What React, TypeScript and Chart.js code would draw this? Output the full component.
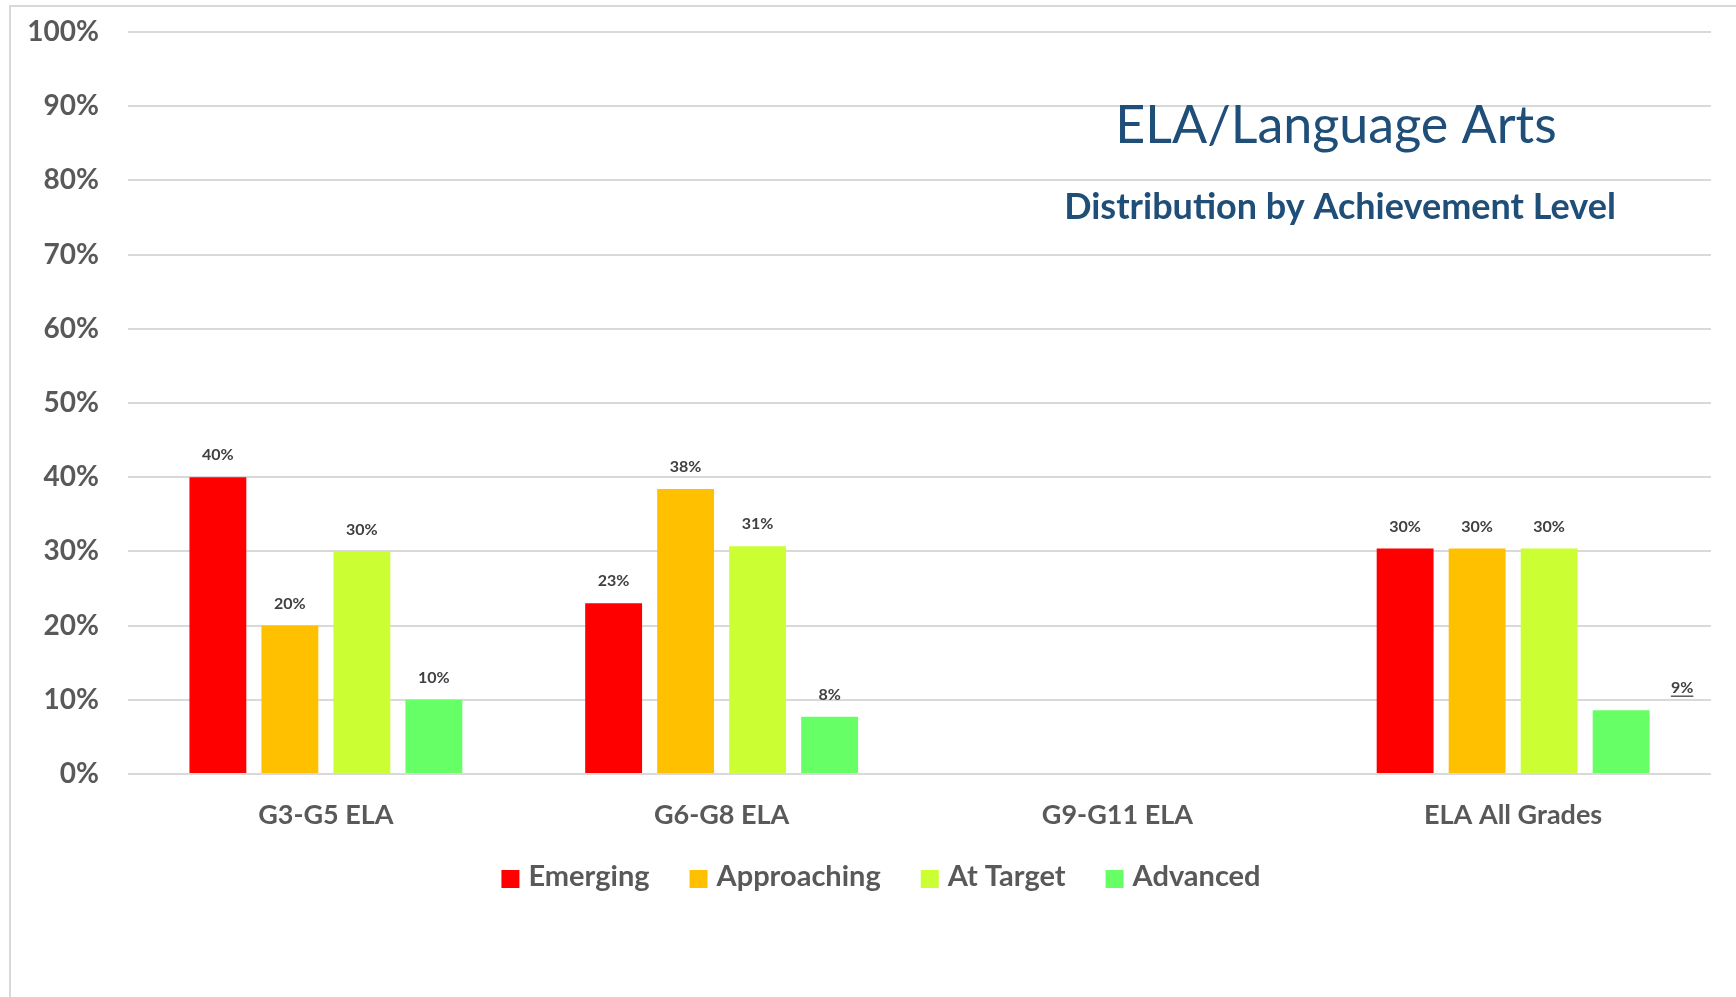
import React, { useEffect, useRef } from "react";
import { Chart, registerables } from "chart.js";

Chart.register(...registerables);

const categories = ["G3-G5 ELA", "G6-G8 ELA", "G9-G11 ELA", "ELA All Grades"];
const seriesNames = ["Emerging", "Approaching", "At Target", "Advanced"];
const emerging = [0.4, 0.23, null, 0.304];
const approaching = [0.2, 0.384, null, 0.304];
const atTarget = [0.3, 0.307, null, 0.304];
const advanced = [0.1, 0.077, null, 0.086];
const seriesColors = ["#FF0000", "#FFC000", "#CCFF33", "#66FF66"];
const chartTitle = "ELA/Language Arts";
const chartSubtitle = "Distribution by Achievement Level";

const FONT = "Lato, 'Open Sans', sans-serif";
const TEXT_GRAY = "#595959";
const LABEL_GRAY = "#404040";
const TITLE_BLUE = "#1F4E79";
const GRID_GRAY = "#D9D9D9";

const pct = (v: number) => Math.round(v * 100) + "%";

const framePlugin = {
  id: "frame",
  beforeDraw(chart: any) {
    const { ctx, width, height } = chart;
    ctx.save();
    ctx.fillStyle = "#FFFFFF";
    ctx.fillRect(0, 0, width, height);
    ctx.strokeStyle = GRID_GRAY;
    ctx.lineWidth = 2;
    ctx.beginPath();
    ctx.moveTo(10, height);
    ctx.lineTo(10, 6);
    ctx.lineTo(width, 6);
    ctx.stroke();
    ctx.restore();
  },
};

const dataLabelPlugin = {
  id: "dataLabels",
  afterDatasetsDraw(chart: any, _args: any, opts: any) {
    const { ctx } = chart;
    const overrides = opts.overrides || [];
    ctx.save();
    ctx.font = `bold 16px ${FONT}`;
    ctx.fillStyle = LABEL_GRAY;
    ctx.strokeStyle = LABEL_GRAY;
    ctx.textAlign = "center";
    ctx.textBaseline = "middle";
    chart.data.datasets.forEach((ds: any, i: number) => {
      const meta = chart.getDatasetMeta(i);
      meta.data.forEach((el: any, j: number) => {
        const v = ds.data[j];
        if (v === null || v === undefined) return;
        const ov = overrides.find((o: any) => o.dataset === i && o.index === j);
        const x = el.x + (ov ? ov.dx : 0);
        const y = el.y - 22;
        const text = pct(v);
        ctx.fillText(text, x, y);
        if (ov && ov.underline) {
          const w = ctx.measureText(text).width;
          ctx.lineWidth = 1.3;
          ctx.beginPath();
          ctx.moveTo(x - w / 2, y + 8);
          ctx.lineTo(x + w / 2, y + 8);
          ctx.stroke();
        }
      });
    });
    ctx.restore();
  },
};

const titlePlugin = {
  id: "titles",
  afterDraw(chart: any) {
    const { ctx } = chart;
    ctx.save();
    ctx.fillStyle = TITLE_BLUE;
    ctx.textAlign = "center";
    ctx.textBaseline = "alphabetic";
    ctx.font = `52px ${FONT}`;
    ctx.fillText(chartTitle, 1336, 143);
    ctx.font = `bold 36px ${FONT}`;
    ctx.fillText(chartSubtitle, 1340, 219);
    ctx.restore();
  },
};

const legendPlugin = {
  id: "customLegend",
  afterDraw(chart: any) {
    const { ctx } = chart;
    const box = 18;
    const gapText = 9;
    const gapItem = 40;
    ctx.save();
    ctx.font = `bold 29px ${FONT}`;
    const items = chart.data.datasets.map((ds: any) => ({
      label: ds.label,
      color: ds.backgroundColor,
      w: ctx.measureText(ds.label).width,
    }));
    const total =
      items.reduce((s: number, it: any) => s + box + gapText + it.w, 0) +
      gapItem * (items.length - 1);
    let x = 881 - total / 2;
    const boxTop = 870;
    ctx.textAlign = "left";
    ctx.textBaseline = "alphabetic";
    items.forEach((it: any) => {
      ctx.fillStyle = it.color;
      ctx.fillRect(x, boxTop, box, box);
      ctx.fillStyle = TEXT_GRAY;
      ctx.fillText(it.label, x + box + gapText, 886);
      x += box + gapText + it.w + gapItem;
    });
    ctx.restore();
  },
};

export default function App() {
  const canvasRef = useRef<HTMLCanvasElement | null>(null);

  useEffect(() => {
    document.body.style.margin = "0";
    const canvas = canvasRef.current;
    if (!canvas) return;
    const seriesData = [emerging, approaching, atTarget, advanced];
    const chart = new Chart(canvas, {
      type: "bar",
      data: {
        labels: categories,
        datasets: seriesNames.map((name, i) => ({
          label: name,
          data: seriesData[i],
          backgroundColor: seriesColors[i],
          borderWidth: 0,
          categoryPercentage: 0.7277,
          barPercentage: 0.79,
        })),
      },
      options: {
        responsive: false,
        animation: false,
        devicePixelRatio: 1,
        layout: { padding: { left: 0, top: 32, right: 25, bottom: 166 } },
        plugins: {
          legend: { display: false },
          title: { display: false },
          tooltip: { enabled: false },
          dataLabels: {
            overrides: [{ dataset: 3, index: 3, dx: 61, underline: true }],
          },
        } as any,
        scales: {
          x: {
            grid: { display: false, drawTicks: false },
            border: { display: false },
            ticks: {
              color: TEXT_GRAY,
              font: { family: FONT, size: 27, weight: "bold" },
              padding: 25,
              maxRotation: 0,
            },
            afterFit(scale: any) {
              scale.height = 57;
              scale.paddingLeft = 0;
              scale.paddingRight = 0;
            },
          },
          y: {
            min: 0,
            max: 1,
            grid: { color: GRID_GRAY, lineWidth: 2, drawTicks: false },
            border: { display: false },
            ticks: {
              stepSize: 0.1,
              color: TEXT_GRAY,
              font: { family: FONT, size: 28, weight: "bold" },
              padding: 29,
              callback: (v: any) => pct(Number(v)),
            },
            afterFit(scale: any) {
              scale.width = 128;
              scale.paddingTop = 0;
              scale.paddingBottom = 0;
            },
          },
        },
      },
      plugins: [framePlugin, dataLabelPlugin, titlePlugin, legendPlugin],
    });
    return () => chart.destroy();
  }, []);

  return (
    <div style={{ width: 1736, height: 997, overflow: "hidden", background: "#fff" }}>
      <canvas ref={canvasRef} width={1736} height={997} style={{ display: "block" }} />
    </div>
  );
}
